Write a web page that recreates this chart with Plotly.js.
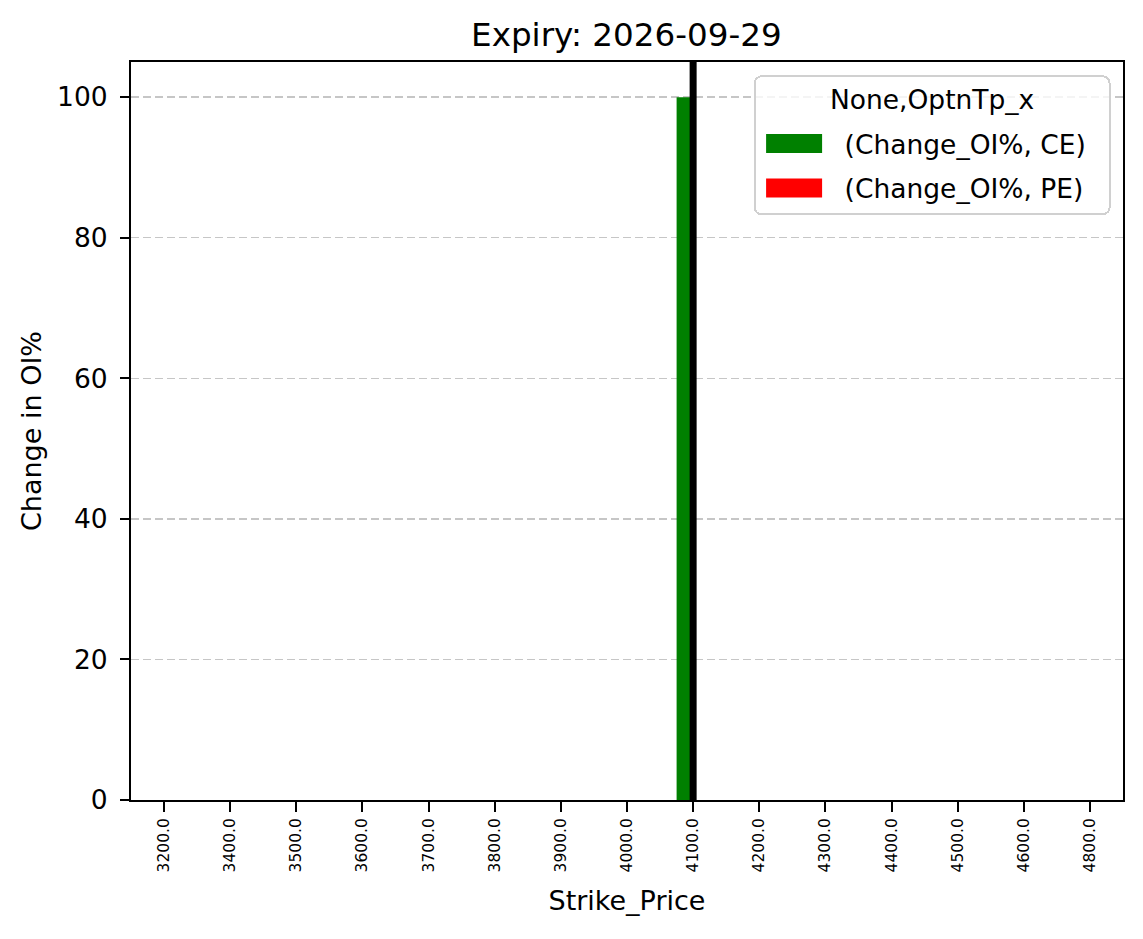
<!DOCTYPE html>
<html>
<head>
<meta charset="utf-8">
<script src="https://cdn.plot.ly/plotly-3.0.1.min.js"></script>
<style>html,body{margin:0;padding:0;background:#fff;}#chart{width:1143px;height:939px;}</style>
</head>
<body>
<div id="chart"></div>
<script>
const strikes = ["3200.0","3400.0","3500.0","3600.0","3700.0","3800.0","3900.0","4000.0","4100.0","4200.0","4300.0","4400.0","4500.0","4600.0","4800.0"];
const changeOiCE = [0,0,0,0,0,0,0,0,100,0,0,0,0,0,0];
const changeOiPE = [0,0,0,0,0,0,0,0,0,0,0,0,0,0,0];
const spotStrike = "4100.0";
const yTicks = [0,20,40,60,80,100];
const seriesNames = ["(Change_OI%, CE)", "(Change_OI%, PE)"];

const idx = strikes.map((_, i) => i);
const spotIdx = strikes.indexOf(spotStrike);
const FONT = "DejaVu Sans";
const PAD = "\u00a0\u00a0";

const traces = [
  {type:"bar", x:idx, y:changeOiCE, name:seriesNames[0] + PAD, width:0.25, offset:-0.25, legendgroup:"ce",
   marker:{color:"#008000", line:{width:0}}, hoverinfo:"x+y"},
  {type:"bar", x:idx, y:changeOiPE, name:seriesNames[1] + PAD, width:0.25, offset:0, legendgroup:"pe",
   marker:{color:"#ff0000", line:{width:0}}, hoverinfo:"x+y"}
];

const layout = {
  width:1143, height:939,
  margin:{l:131, r:20, t:62, b:139},
  paper_bgcolor:"#fff", plot_bgcolor:"#fff",
  font:{family:FONT, color:"#000", size:27},
  barmode:"overlay",
  showlegend:true,
  title:{text:"Expiry: 2026-09-29", font:{family:FONT, size:32.6, color:"#000"},
         x:0.548, xref:"container", xanchor:"center", y:1-35/939, yref:"container", yanchor:"middle"},
  xaxis:{range:[-0.5,14.5], tickmode:"array", tickvals:idx, ticktext:strikes, tickangle:-90,
         tickfont:{family:FONT, size:15.5, color:"#000"}, ticks:"outside", ticklen:10, tickwidth:2, tickcolor:"#000",
         showgrid:false, zeroline:false, showline:true, linecolor:"#000", linewidth:2, mirror:true,
         title:{text:"Strike_Price", font:{family:FONT, size:27, color:"#000"}, standoff:20}},
  yaxis:{range:[0,105], tickmode:"array", tickvals:yTicks, ticktext:yTicks.map(String),
         tickfont:{family:FONT, size:26.5, color:"#000"}, ticks:"outside", ticklen:9, tickwidth:2, tickcolor:"#000",
         ticklabelstandoff:7,
         showgrid:true, gridcolor:"#c6c6c6", gridwidth:1.4, griddash:"8px,4px",
         zeroline:false, showline:true, linecolor:"#000", linewidth:2, mirror:true,
         title:{text:"Change in OI%", font:{family:FONT, size:27, color:"#000"}, standoff:8}},
  legend:{x:0.9875, xanchor:"right", y:0.982, yanchor:"top", bgcolor:"rgba(255,255,255,0.8)",
          bordercolor:"#d0d0d0", borderwidth:2, font:{family:FONT, size:26.5, color:"#000"},
          title:{text:"None,OptnTp_x", side:"top center", font:{family:FONT, size:26.5, color:"#000"}},
          itemwidth:79, tracegroupgap:4},
  shapes:[{type:"line", xref:"x", yref:"paper", x0:spotIdx, x1:spotIdx, y0:0, y1:1,
           line:{color:"#000", width:7}}]
};

function shiftY(el, dy) {
  const t = el.getAttribute("transform") || "";
  const m = t.match(/translate\(\s*([-\d.e]+)[ ,]+([-\d.e]+)\s*\)/);
  if (m) el.setAttribute("transform", t.replace(m[0], "translate(" + m[1] + "," + (parseFloat(m[2]) + dy) + ")"));
  else el.setAttribute("transform", "translate(0," + dy + ")" + t);
}

Plotly.newPlot("chart", traces, layout, {displayModeBar:false, staticPlot:true}).then(gd => {
  // matplotlib-style legend: wide rectangular handles, rounded frame, looser spacing
  gd.querySelectorAll(".legend .legendpoints path").forEach(p => {
    p.setAttribute("d", "M-34,-9.5h56v19h-56Z");
  });
  const items = gd.querySelectorAll(".legend g.traces");
  items.forEach((g, i) => shiftY(g, 8 + i * 3));
  const title = gd.querySelector(".legend .legendtitletext");
  if (title) shiftY(title, -3);
  const extra = 12;
  const bg = gd.querySelector(".legend rect.bg");
  if (bg) {
    bg.setAttribute("rx", 7); bg.setAttribute("ry", 7);
    bg.setAttribute("height", parseFloat(bg.getAttribute("height")) + extra);
  }
  document.querySelectorAll("clipPath[id^='legend'] rect").forEach(r => {
    r.setAttribute("height", parseFloat(r.getAttribute("height") || 0) + extra);
  });
});
</script>
</body>
</html>
